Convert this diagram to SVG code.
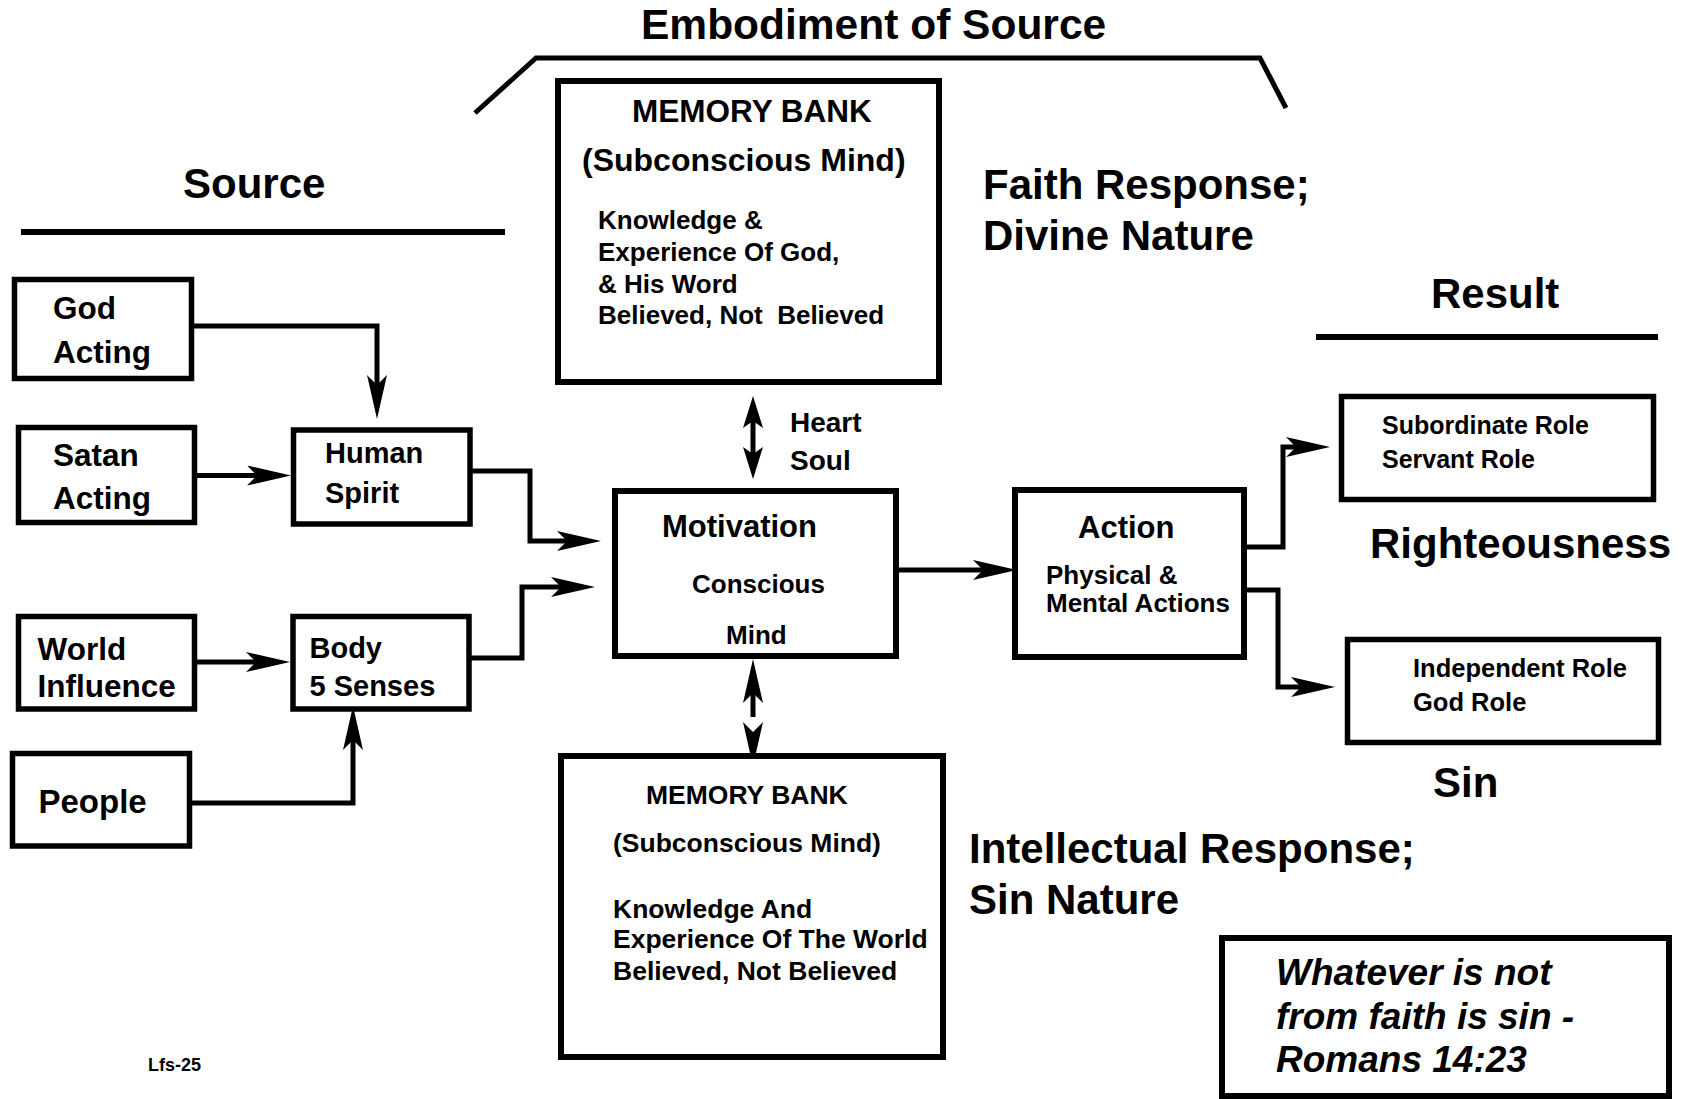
<svg xmlns="http://www.w3.org/2000/svg" width="1692" height="1099" viewBox="0 0 1692 1099">
<style>
text{font-family:"Liberation Sans",Arial,Helvetica,sans-serif;font-weight:bold;fill:#000}
.box{fill:#fff;stroke:#000;stroke-width:5.5}
.bigbox{fill:#fff;stroke:#000;stroke-width:6}
.rule{fill:none;stroke:#000;stroke-width:6}
.con{fill:none;stroke:#000;stroke-width:5;stroke-linejoin:miter}
.h42{font-size:42px}
.it{font-style:italic}
</style>
<defs>
<marker id="ah" markerUnits="userSpaceOnUse" viewBox="0 0 44 20" refX="24" refY="10" markerWidth="44" markerHeight="20" orient="auto-start-reverse">
<path d="M0,0 L44,10 L0,20 L10,10 Z" fill="#000"/>
</marker>
<marker id="ahs" markerUnits="userSpaceOnUse" viewBox="0 0 32 20" refX="20" refY="10" markerWidth="32" markerHeight="20" orient="auto-start-reverse">
<path d="M0,0 L32,10 L0,20 L7,10 Z" fill="#000"/>
</marker>
</defs>
<rect width="1692" height="1099" fill="#fff"/>

<g id="headings">
<text x="641" y="39" font-size="42.5">Embodiment of Source</text>
<polyline class="con" points="475,113 536,58 1260,58 1286,108"/>
<text class="h42" x="183" y="198">Source</text>
<line class="rule" x1="21" y1="232" x2="505" y2="232"/>
<text class="h42" x="1431" y="308">Result</text>
<line class="rule" x1="1316" y1="337" x2="1658" y2="337"/>
<text class="h42" x="983" y="199">Faith Response;</text>
<text class="h42" x="983" y="250">Divine Nature</text>
<text class="h42" x="969" y="863">Intellectual Response;</text>
<text class="h42" x="969" y="914">Sin Nature</text>
<text class="h42" x="1370" y="558">Righteousness</text>
<text class="h42" x="1433" y="797">Sin</text>
<text x="790" y="432" font-size="28">Heart</text>
<text x="790" y="470" font-size="28">Soul</text>
<text x="148" y="1071" font-size="18">Lfs-25</text>
</g>

<g id="connectors">
<path class="con" d="M194,326 H377 V399" marker-end="url(#ah)"/>
<path class="con" d="M197,475.5 H271" marker-end="url(#ah)"/>
<path class="con" d="M472,471 H530 V541 H581" marker-end="url(#ah)"/>
<path class="con" d="M197,662 H270" marker-end="url(#ah)"/>
<path class="con" d="M471,658 H522 V587 H575" marker-end="url(#ah)"/>
<path class="con" d="M192,803 H353 V726" marker-end="url(#ah)"/>
<path class="con" d="M899,570 H997" marker-end="url(#ah)"/>
<path class="con" d="M1247,547 H1283 V447 H1310" marker-end="url(#ah)"/>
<path class="con" d="M1247,590 H1278 V687 H1315" marker-end="url(#ah)"/>
<path class="con" d="M753,408 V467" marker-start="url(#ahs)" marker-end="url(#ahs)"/>
<path class="con" d="M753,679 V717" marker-start="url(#ah)"/>
<path class="con" d="M753,745 V746" marker-end="url(#ah)"/>
</g>

<g id="god-acting">
<rect class="box" x="14.5" y="279.5" width="177" height="99"/>
<text x="53" y="319" font-size="31.5">God</text>
<text x="53" y="363" font-size="31.5">Acting</text>
</g>
<g id="satan-acting">
<rect class="box" x="18.5" y="427.5" width="176" height="95"/>
<text x="53" y="466" font-size="31.5">Satan</text>
<text x="53" y="509" font-size="31.5">Acting</text>
</g>
<g id="human-spirit">
<rect class="box" x="293.5" y="430" width="176.5" height="94"/>
<text x="325" y="463" font-size="29">Human</text>
<text x="325" y="503" font-size="29">Spirit</text>
</g>
<g id="world-influence">
<rect class="box" x="18.5" y="616.5" width="176" height="92.5"/>
<text x="37.5" y="660" font-size="31.5">World</text>
<text x="37.5" y="697" font-size="31.5">Influence</text>
</g>
<g id="body-senses">
<rect class="box" x="293" y="616.5" width="176" height="92.5"/>
<text x="309.5" y="658" font-size="29">Body</text>
<text x="309.5" y="695.5" font-size="29">5 Senses</text>
</g>
<g id="people">
<rect class="box" x="12.5" y="753.5" width="177" height="92.5"/>
<text x="38.5" y="813" font-size="33">People</text>
</g>

<g id="memory-bank-top">
<rect class="bigbox" x="558" y="81" width="381" height="301"/>
<text x="752" y="122" font-size="31.5" text-anchor="middle">MEMORY BANK</text>
<text x="582" y="171" font-size="32">(Subconscious Mind)</text>
<text x="598" y="229" font-size="26">Knowledge &amp;</text>
<text x="598" y="261" font-size="26">Experience Of God,</text>
<text x="598" y="293" font-size="26">&amp; His Word</text>
<text x="598" y="324" font-size="26" xml:space="preserve" style="white-space:pre">Believed, Not  Believed</text>
</g>

<g id="motivation">
<rect class="bigbox" x="615" y="491" width="281" height="165"/>
<text x="662" y="537" font-size="31">Motivation</text>
<text x="692" y="593" font-size="26">Conscious</text>
<text x="726" y="644" font-size="26">Mind</text>
</g>

<g id="action">
<rect class="bigbox" x="1015" y="490" width="229" height="167"/>
<text x="1078" y="538" font-size="31">Action</text>
<text x="1046" y="584" font-size="26">Physical &amp;</text>
<text x="1046" y="612" font-size="26">Mental Actions</text>
</g>

<g id="memory-bank-bottom">
<rect class="bigbox" x="561" y="756" width="382" height="301"/>
<text x="646" y="804" font-size="26.5">MEMORY BANK</text>
<text x="613" y="852" font-size="26.5">(Subconscious Mind)</text>
<text x="613" y="918" font-size="26.5">Knowledge And</text>
<text x="613" y="948" font-size="26.5">Experience Of The World</text>
<text x="613" y="980" font-size="26.5">Believed, Not Believed</text>
</g>

<g id="subordinate-role">
<rect class="box" x="1341.5" y="396.5" width="312" height="103"/>
<text x="1382" y="434" font-size="25">Subordinate Role</text>
<text x="1382" y="468" font-size="25">Servant Role</text>
</g>

<g id="independent-role">
<rect class="box" x="1347.5" y="639.5" width="311" height="103"/>
<text x="1413" y="677" font-size="25.5">Independent Role</text>
<text x="1413" y="711" font-size="25.5">God Role</text>
</g>

<g id="quote">
<rect class="bigbox" x="1222" y="938" width="447" height="158"/>
<text class="it" x="1276" y="985" font-size="37">Whatever is not</text>
<text class="it" x="1276" y="1029" font-size="37">from faith is sin -</text>
<text class="it" x="1276" y="1072" font-size="37">Romans 14:23</text>
</g>
</svg>
